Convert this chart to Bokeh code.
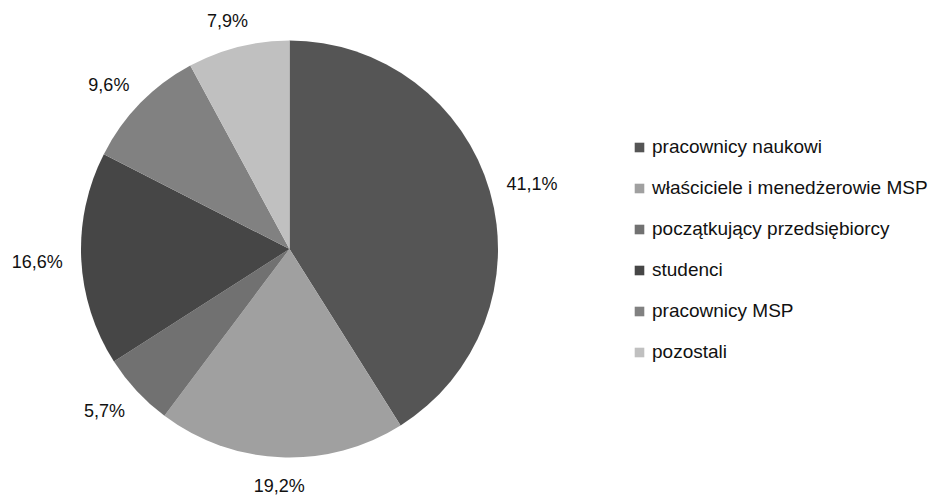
import math
from bokeh.plotting import figure
from bokeh.models import ColumnDataSource, Legend, LegendItem
from bokeh.core.properties import value
from bokeh.embed import file_html
from bokeh.resources import INLINE

# Respondent groups and their shares (%)
categories = [
    "pracownicy naukowi",
    "właściciele i menedżerowie MSP",
    "początkujący przedsiębiorcy",
    "studenci",
    "pracownicy MSP",
    "pozostali",
]
shares = [41.1, 19.2, 5.7, 16.6, 9.6, 7.9]
share_labels = ["41,1%", "19,2%", "5,7%", "16,6%", "9,6%", "7,9%"]
colors = ["#555555", "#a0a0a0", "#717171", "#464646", "#818181", "#c0c0c0"]

FONT = "Liberation Sans"

W, H = 928, 496
cx, cy, R = 289.0, 247.5, 208.5
gap = 19                 # distance between rim and the nearest edge of a label
box_w, box_h = 50, 18    # approximate size of a label box

total = sum(shares)
starts, ends, lx, ly = [], [], [], []
cum = 0.0
for v in shares:
    a0 = math.pi / 2 - 2 * math.pi * cum / total
    cum += v
    a1 = math.pi / 2 - 2 * math.pi * cum / total
    starts.append(a0)
    ends.append(a1)
    mid = (a0 + a1) / 2
    dx, dy = math.cos(mid), math.sin(mid)
    lx.append(cx + (R + gap) * dx + dx * box_w / 2)
    ly.append(cy + (R + gap) * dy + dy * box_h / 2 - 1)

src = ColumnDataSource(dict(cat=categories, start=starts, end=ends, color=colors))
lab = ColumnDataSource(dict(x=lx, y=ly, text=share_labels))

p = figure(width=W, height=H, x_range=(0, W), y_range=(0, H),
           output_backend="svg", toolbar_location=None, min_border=0)
p.axis.visible = False
p.grid.visible = False
p.outline_line_color = None
p.background_fill_color = "white"
p.border_fill_color = "white"

r = p.wedge(x=cx, y=cy, radius=R, start_angle="start", end_angle="end",
            direction="clock", fill_color="color", line_color=None, source=src)

p.text(x="x", y="y", text="text", source=lab, text_align="center",
       text_baseline="middle", text_font=value(FONT),
       text_font_size="18px", text_color="#111111")

items = [LegendItem(label=c, renderers=[r], index=i) for i, c in enumerate(categories)]
legend = Legend(items=items, location=(633, 133), padding=0, margin=0,
                spacing=19, label_height=22, glyph_height=12, glyph_width=12,
                label_standoff=7, border_line_color=None,
                background_fill_alpha=0,
                label_text_font=FONT, label_text_font_size="19px",
                label_text_color="#111111")
p.add_layout(legend)

open("out.html", "w").write(file_html(p, INLINE))
